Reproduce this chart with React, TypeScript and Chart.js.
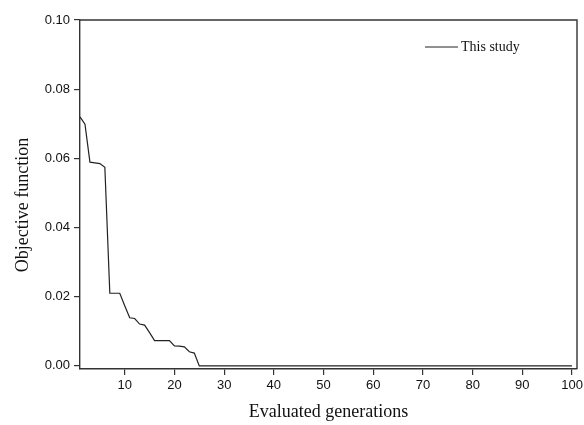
import React, { useEffect, useRef } from "react";
import { Chart, registerables } from "chart.js";

Chart.register(...registerables);

const seriesLabel = "This study";
const xTitle = "Evaluated generations";
const yTitle = "Objective function";

const generations: number[] = [
  1, 2, 3, 4, 5, 6, 7, 8, 9, 10, 11, 12, 13, 14, 15, 16, 17, 18, 19, 20,
  21, 22, 23, 24, 25, 26, 27, 28, 29, 30, 31, 32, 33, 34, 35, 36, 37, 38, 39, 40,
  41, 42, 43, 44, 45, 46, 47, 48, 49, 50, 51, 52, 53, 54, 55, 56, 57, 58, 59, 60,
  61, 62, 63, 64, 65, 66, 67, 68, 69, 70, 71, 72, 73, 74, 75, 76, 77, 78, 79, 80,
  81, 82, 83, 84, 85, 86, 87, 88, 89, 90, 91, 92, 93, 94, 95, 96, 97, 98, 99, 100,
];

const objective: number[] = [
  0.072, 0.0699, 0.0589, 0.0587, 0.0585, 0.0574, 0.021, 0.021, 0.021, 0.0174,
  0.0139, 0.0137, 0.0121, 0.0118, 0.0096, 0.0073, 0.0073, 0.0073, 0.0073, 0.0058,
  0.0057, 0.0055, 0.0041, 0.0037, 0, 0, 0, 0, 0, 0,
  0, 0, 0, 0, 0, 0, 0, 0, 0, 0,
  0, 0, 0, 0, 0, 0, 0, 0, 0, 0,
  0, 0, 0, 0, 0, 0, 0, 0, 0, 0,
  0, 0, 0, 0, 0, 0, 0, 0, 0, 0,
  0, 0, 0, 0, 0, 0, 0, 0, 0, 0,
  0, 0, 0, 0, 0, 0, 0, 0, 0, 0,
  0, 0, 0, 0, 0, 0, 0, 0, 0, 0,
];

const xTickValues: number[] = [10, 20, 30, 40, 50, 60, 70, 80, 90, 100];
const yTickValues: number[] = [0, 0.02, 0.04, 0.06, 0.08, 0.1];

const xMin = 1;
const xMax = 101;
const yMin = -0.0009;
const yMax = 0.1;

const AXIS = "#333333";
const SERIF = "'Liberation Serif', 'Times New Roman', serif";

const frameAndLegend = {
  id: "frameAndLegend",
  afterDraw(chart: any) {
    const { ctx, chartArea } = chart;
    const { left, right, top, bottom } = chartArea;
    ctx.save();
    ctx.strokeStyle = AXIS;
    ctx.lineWidth = 1.4;
    ctx.beginPath();
    ctx.moveTo(left, top);
    ctx.lineTo(right, top);
    ctx.lineTo(right, bottom);
    ctx.stroke();
    // y title
    ctx.save();
    ctx.translate(23, 205);
    ctx.rotate(-Math.PI / 2);
    ctx.fillStyle = "#111";
    ctx.font = `18px ${SERIF}`;
    ctx.textAlign = "center";
    ctx.textBaseline = "middle";
    ctx.fillText(yTitle, 0, 0);
    ctx.restore();
    // legend
    const label = chart.data.datasets[0].label;
    const ly = 47;
    ctx.strokeStyle = "#222";
    ctx.lineWidth = 1.2;
    ctx.beginPath();
    ctx.moveTo(425, ly);
    ctx.lineTo(458, ly);
    ctx.stroke();
    ctx.fillStyle = "#111";
    ctx.font = `14px ${SERIF}`;
    ctx.textBaseline = "middle";
    ctx.textAlign = "left";
    ctx.fillText(label, 461, ly);
    ctx.restore();
  },
};

export default function App() {
  const ref = useRef<HTMLCanvasElement>(null);

  useEffect(() => {
    if (!ref.current) return;
    const points = generations.map((g, i) => ({ x: g, y: objective[i] }));
    const chart = new Chart(ref.current, {
      type: "line",
      data: {
        datasets: [
          {
            label: seriesLabel,
            data: points,
            borderColor: "#222222",
            borderWidth: 1.2,
            pointRadius: 0,
            tension: 0,
            fill: false,
          },
        ],
      },
      options: {
        responsive: false,
        animation: false,
        layout: { padding: { top: 20, right: 7, left: 0, bottom: 0 } },
        plugins: {
          legend: { display: false },
          tooltip: { enabled: false },
        },
        scales: {
          x: {
            type: "linear",
            min: xMin,
            max: xMax,
            afterBuildTicks(scale: any) {
              scale.ticks = xTickValues.map((v) => ({ value: v }));
            },
            afterFit(scale: any) {
              scale.height = 56;
              scale.paddingLeft = 0;
              scale.paddingRight = 0;
            },
            ticks: {
              color: "#111",
              font: { family: "'Liberation Sans', Arial, sans-serif", size: 13 },
              padding: 3,
              maxRotation: 0,
              callback: (v: any) => String(v),
            },
            grid: {
              display: true,
              drawOnChartArea: false,
              drawTicks: true,
              tickLength: 6,
              color: AXIS,
              lineWidth: 1.2,
            },
            border: { display: true, color: AXIS, width: 1.4 },
            title: {
              display: true,
              text: xTitle,
              color: "#111",
              font: { family: SERIF, size: 18 },
              padding: { top: 0, bottom: 2 },
            },
          },
          y: {
            type: "linear",
            min: yMin,
            max: yMax,
            afterBuildTicks(scale: any) {
              scale.ticks = yTickValues.map((v) => ({ value: v }));
            },
            afterFit(scale: any) {
              scale.width = 80;
              scale.paddingTop = 0;
              scale.paddingBottom = 0;
            },
            ticks: {
              color: "#111",
              font: { family: "'Liberation Sans', Arial, sans-serif", size: 13 },
              padding: 4,
              callback: (v: any) => Number(v).toFixed(2),
            },
            grid: {
              display: true,
              drawOnChartArea: false,
              drawTicks: true,
              tickLength: 6,
              color: AXIS,
              lineWidth: 1.2,
            },
            border: { display: true, color: AXIS, width: 1.4 },
            title: { display: false, text: yTitle },
          },
        },
      },
      plugins: [frameAndLegend],
    });
    return () => chart.destroy();
  }, []);

  return (
    <div style={{ position: "fixed", left: 0, top: 0, width: 584, height: 425, background: "#fff" }}>
      <canvas ref={ref} width={584} height={425} />
    </div>
  );
}
